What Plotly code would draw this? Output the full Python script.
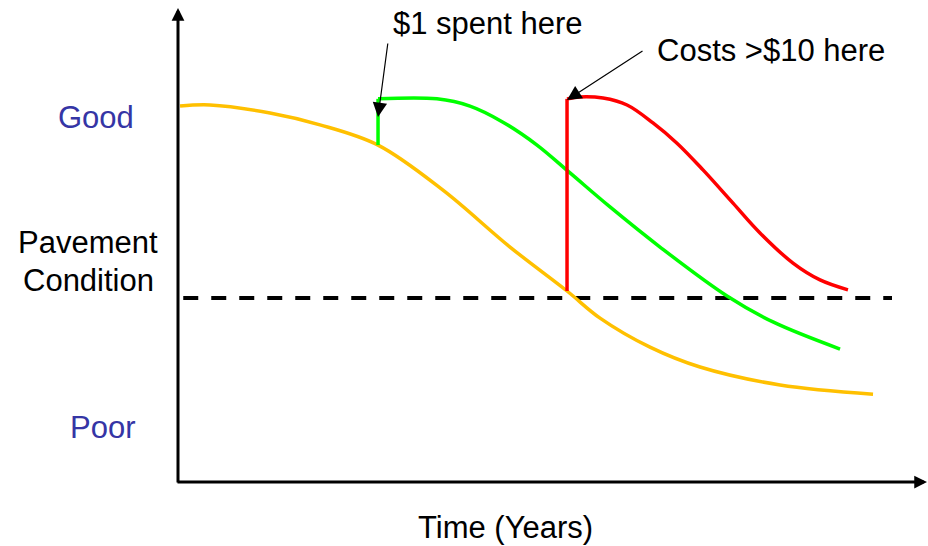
import plotly.graph_objects as go

# ---- data (time units, condition units) ----
do_nothing_t = [0.27, 4.27, 12.27, 18.93, 26.67, 35.33, 44.27, 51.87, 56.27, 62.93, 69.6, 80.27, 92.67]
do_nothing_c = [98.4, 98.7, 96.6, 93.5, 88.2, 76.4, 61.5, 50.0, 42.9, 35.3, 30.1, 25.4, 23.0]

early_jump_t = [26.67, 26.67]
early_jump_c = [88.2, 100.3]
early_t = [26.67, 34.53, 38.93, 43.33, 47.87, 52.27, 57.6, 64.27, 73.2, 79.33, 88.27]
early_c = [100.3, 100.3, 98.4, 94.2, 88.2, 80.9, 72.0, 61.5, 48.7, 41.9, 34.8]

late_jump_t = [51.87, 51.87]
late_jump_c = [50.0, 100.3]
late_t = [51.87, 53.6, 56.67, 59.87, 63.33, 66.53, 70.0, 74.0, 77.6, 82.0, 85.6, 89.33]
late_c = [100.3, 100.8, 100.5, 98.7, 94.0, 88.7, 81.7, 73.0, 65.2, 57.3, 52.9, 50.3]

threshold_t = [0.7, 95.2]
threshold_c = [48.2, 48.2]

# ---- layout helpers (pixel -> data) ----
W, H = 928, 546
X0, XS = 178, 7.5     # x pixel of t=0, pixels per time unit
Y0, YS = 482, 3.82    # y pixel of c=0, pixels per condition unit
def tx(px): return (px - X0) / XS
def cy(py): return (Y0 - py) / YS

YELLOW = "#FFC000"
GREEN = "#00FF00"
RED = "#FF0000"
BLUE = "#3535A5"
FONT = "Liberation Sans, Arial, sans-serif"

fig = go.Figure()

def add_line(x, y, color, width=3.5, shape="spline", dash=None):
    fig.add_trace(go.Scatter(x=x, y=y, mode="lines",
                             line=dict(color=color, width=width, shape=shape,
                                       smoothing=1.0 if shape == "spline" else None,
                                       dash=dash),
                             hoverinfo="skip", showlegend=False))

add_line(threshold_t, threshold_c, "black", width=4, shape="linear", dash="15px,13px")
add_line(do_nothing_t, do_nothing_c, YELLOW)
add_line(early_jump_t, early_jump_c, GREEN, shape="linear")
add_line(early_t, early_c, GREEN)
add_line(late_jump_t, late_jump_c, RED, shape="linear")
add_line(late_t, late_c, RED)

ann = []
# axis arrows
ann.append(dict(x=tx(178), y=cy(8), ax=tx(178), ay=cy(484), xref="x", yref="y", axref="x", ayref="y",
                text="", showarrow=True, arrowhead=2, arrowsize=0.85, arrowwidth=3, arrowcolor="black"))
ann.append(dict(x=tx(927), y=cy(482), ax=tx(176), ay=cy(482), xref="x", yref="y", axref="x", ayref="y",
                text="", showarrow=True, arrowhead=2, arrowsize=0.85, arrowwidth=3, arrowcolor="black"))
# callout arrows
ann.append(dict(x=tx(378), y=cy(117), ax=tx(388), ay=cy(42), xref="x", yref="y", axref="x", ayref="y",
                text="", showarrow=True, arrowhead=2, arrowsize=2.4, arrowwidth=1.2, arrowcolor="black"))
ann.append(dict(x=tx(567), y=cy(100), ax=tx(644), ay=cy(50), xref="x", yref="y", axref="x", ayref="y",
                text="", showarrow=True, arrowhead=2, arrowsize=2.4, arrowwidth=1.2, arrowcolor="black"))

def txt(s, px, py, color="black", size=31):
    ann.append(dict(text=s, x=px / W, y=1 - py / H, xref="paper", yref="paper",
                    showarrow=False, xanchor="center", yanchor="middle",
                    font=dict(family=FONT, size=size, color=color)))

txt("$1 spent here", 488, 24)
txt("Costs >$10 here", 771, 50)
txt("Good", 96, 117, BLUE)
txt("Pavement", 88, 243)
txt("Condition", 88, 280)
txt("Poor", 102, 427, BLUE)
txt("Time (Years)", 505, 527)

fig.update_layout(
    width=W, height=H, margin=dict(l=0, r=0, t=0, b=0),
    paper_bgcolor="white", plot_bgcolor="white",
    xaxis=dict(range=[tx(0), tx(W)], visible=False, fixedrange=True),
    yaxis=dict(range=[cy(H), cy(0)], visible=False, fixedrange=True),
    annotations=ann, showlegend=False,
)

fig.write_html("out.html")
